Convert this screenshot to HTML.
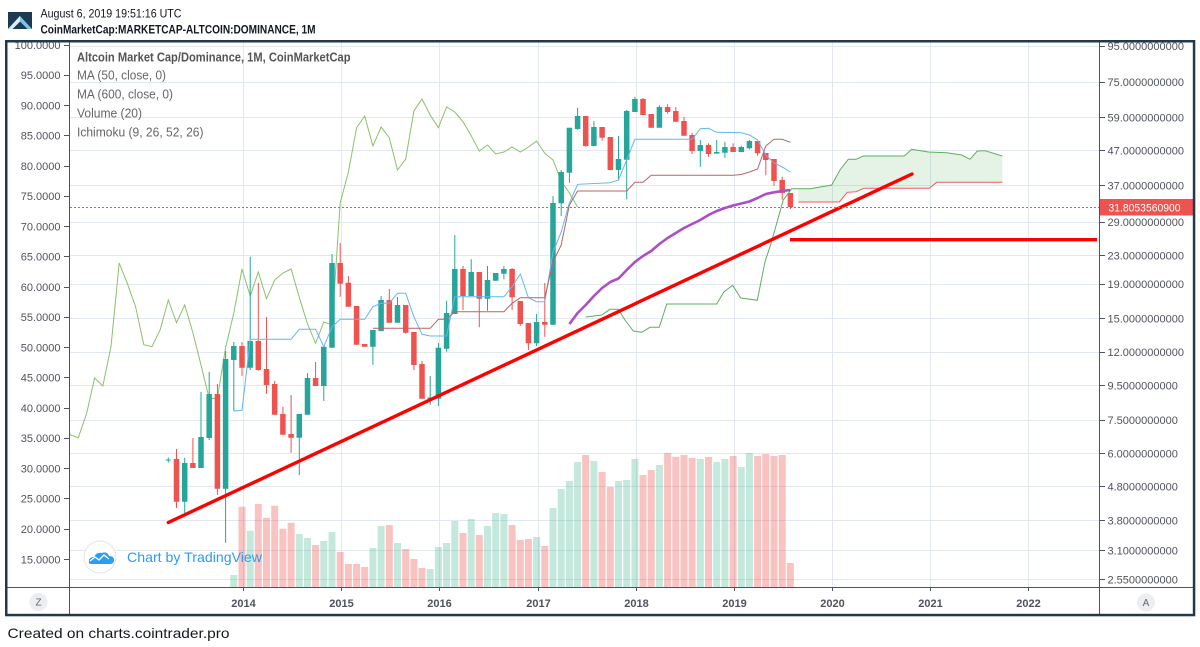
<!DOCTYPE html>
<html><head><meta charset="utf-8"><style>
html,body{margin:0;padding:0;background:#fff;}
svg{display:block;font-family:"Liberation Sans",Arial,sans-serif;}
</style></head><body>
<svg width="1200" height="647" viewBox="0 0 1200 647" xmlns="http://www.w3.org/2000/svg">
<defs><clipPath id="pc"><rect x="70" y="42.5" width="1029" height="544.5"/></clipPath></defs>
<rect width="1200" height="647" fill="#fff"/>
<!-- header -->
<rect x="8" y="12" width="24" height="17" fill="#1d3a53"/>
<polygon points="8,29 20,16 32,29 27.5,29 20,21.5 12.5,29" fill="#7cc4ea"/>
<polygon points="8,29 12.5,29 20,21.5 20,16" fill="#d8eef9"/>
<text x="40.5" y="17.5" font-size="12" fill="#131722" textLength="141" lengthAdjust="spacingAndGlyphs">August 6, 2019 19:51:16 UTC</text>
<text x="40.5" y="33.5" font-size="12" font-weight="bold" fill="#131722" textLength="275" lengthAdjust="spacingAndGlyphs">CoinMarketCap:MARKETCAP-ALTCOIN:DOMINANCE, 1M</text>
<!-- grid -->
<g stroke="#e1e8ef" stroke-width="1">
<path d="M70 46.5H1099M70 82.5H1099M70 117.5H1099M70 150.5H1099M70 185.5H1099M70 222.5H1099M70 255.5H1099M70 284.5H1099M70 318.5H1099M70 352.5H1099M70 385.5H1099M70 420.5H1099M70 453.5H1099M70 486.5H1099M70 520.5H1099M70 550.5H1099M70 579.5H1099"/>
<path d="M243.5 42V587M341.5 42V587M439.5 42V587M538.5 42V587M636.5 42V587M734.5 42V587M832.5 42V587M930.5 42V587M1028.5 42V587"/>
</g>
<g clip-path="url(#pc)">
<!-- volume -->
<path fill="#3bb38a" fill-opacity="0.3" d="M230.3 575h7V587h-7zM246.7 530.7h7V587h-7zM295.8 534h7V587h-7zM304 538h7V587h-7zM320.3 541h7V587h-7zM328.5 532h7V587h-7zM369.4 548h7V587h-7zM377.6 526h7V587h-7zM394 543h7V587h-7zM426.7 569h7V587h-7zM434.9 547h7V587h-7zM443.1 543h7V587h-7zM451.3 521h7V587h-7zM467.7 519h7V587h-7zM484 526h7V587h-7zM492.2 513h7V587h-7zM500.4 514h7V587h-7zM533.1 537h7V587h-7zM549.5 508h7V587h-7zM557.7 489h7V587h-7zM565.9 481h7V587h-7zM574.1 462h7V587h-7zM590.4 461h7V587h-7zM615 481h7V587h-7zM623.2 480h7V587h-7zM631.4 459h7V587h-7zM655.9 465h7V587h-7zM696.8 459h7V587h-7zM713.2 462h7V587h-7zM721.4 459h7V587h-7zM737.8 467h7V587h-7zM745.9 453h7V587h-7z"/>
<path fill="#ef5350" fill-opacity="0.35" d="M238.5 506.7h7V587h-7zM254.8 504h7V587h-7zM263 517.7h7V587h-7zM271.2 505.7h7V587h-7zM279.4 528.7h7V587h-7zM287.6 522.7h7V587h-7zM312.1 545h7V587h-7zM336.7 552h7V587h-7zM344.9 564h7V587h-7zM353.1 564h7V587h-7zM361.2 567h7V587h-7zM385.8 525h7V587h-7zM402.2 549h7V587h-7zM410.4 559h7V587h-7zM418.5 568h7V587h-7zM459.5 533h7V587h-7zM475.8 535h7V587h-7zM508.6 525h7V587h-7zM516.8 540h7V587h-7zM524.9 539h7V587h-7zM541.3 546h7V587h-7zM582.2 455h7V587h-7zM598.6 472h7V587h-7zM606.8 487h7V587h-7zM639.5 475h7V587h-7zM647.7 470h7V587h-7zM664.1 453h7V587h-7zM672.3 456.7h7V587h-7zM680.5 455h7V587h-7zM688.6 458h7V587h-7zM705 457h7V587h-7zM729.6 456h7V587h-7zM754.1 456h7V587h-7zM762.3 454h7V587h-7zM770.5 456h7V587h-7zM778.7 455h7V587h-7zM786.9 563h7V587h-7z"/>
<!-- watermark -->
<circle cx="100" cy="557" r="16" fill="#fff" fill-opacity="0.85" stroke="#e4e4e4" stroke-width="1"/>
<path d="M89 563q-1-6 5-6q2-5 8-4q5-2 7 3q5 0 5 4q0 4-4 4h-18q-3 0-3-1z" fill="#2a9df4"/>
<path d="M90 561l5-4l4 3l5-5l5 4" stroke="#fff" stroke-width="1.4" fill="none"/>
<text x="127" y="562" font-size="14" fill="#2f9bf0" textLength="135" lengthAdjust="spacingAndGlyphs">Chart by TradingView</text>
<!-- cloud -->
<polygon fill="#4caf50" fill-opacity="0.15" points="798.3,188.7 810,188.7 831.7,185 840,170 848.3,159.3 856,159.3 863.3,156 904.3,156 911.7,149.3 928.3,152 946.7,152.7 961.7,155 970,159.3 977.3,151 985,150.7 1002.3,156 1002.3,182.3 936.7,182.3 929.3,188.3 864,188.3 856,191.7 847.3,192.3 839.3,202 798.3,202"/>
<!-- chikou -->
<polyline fill="none" stroke="#8cc06a" stroke-width="1" points="61.9,414.7 70.1,434.7 78.3,437.7 86.5,414 94.6,378 102.8,386 111,346.7 119.2,263 127.4,283.7 135.6,306.7 143.8,344.7 151.9,346.7 160.1,330 168.3,300 176.5,322.7 184.7,305 192.9,332.7 201,365 209.2,398.7 217.4,398 225.6,347.7 233.8,313 242,269 250.2,296 258.3,272 266.5,298.7 274.7,280 282.9,273 291.1,269 299.3,297.3 307.5,324 315.6,343.3 323.8,322 332,324.7 340.2,203 348.4,172 356.6,127.7 364.7,116 372.9,146 381.1,127 389.3,137.7 397.5,170 405.7,159 413.9,111 422,99 430.2,115 438.4,127.7 446.6,107 454.8,112 463,121.7 471.2,135.7 479.3,151 487.5,145 495.7,154 503.9,152 512.1,147 520.3,152 528.4,147 536.6,141 544.8,153.3 553,160 561.2,181 569.4,193 577.6,207"/>
<!-- span A -->
<polyline fill="none" stroke="#5fae5f" stroke-width="1" points="585.7,317 601.7,315 610,309.3 618.3,309.3 625,320 633.3,331 641.7,332.3 650,327.3 659.3,327.3 666.7,304 716.7,304 724,291.7 732.7,285.3 740.7,298 757.3,300.3 765,261.7 770,246.7 776.7,223.3 783.3,200 791.7,188.7 810,188.7 831.7,185 840,170 848.3,159.3 856,159.3 863.3,156 904.3,156 911.7,149.3 928.3,152 946.7,152.7 961.7,155 970,159.3 977.3,151 985,150.7 1002.3,156"/>
<!-- span B -->
<polyline fill="none" stroke="#f25c5c" stroke-width="1" points="798.3,202 839.3,202 847.3,192.3 856,191.7 864,188.3 929.3,188.3 936.7,182.3 1002.3,182.3"/>
<!-- candles green -->
<path stroke="#26a69a" stroke-width="1" fill="none" d="M168.3 457.5V462.5M165.8 460H170.8M184.7 457.7V515M201 392V468M209.2 372V440M225.6 351V542.7M233.8 342V411M250.2 256.7V370M299.3 414V475M307.5 373V414.7M323.8 346V401M332 254V347.7M372.9 330V364.7M381.1 296V331M397.5 297V322.7M430.2 376V404.7M438.4 343V406M446.6 300.7V351.7M454.8 235V314M471.2 259.3V296M487.5 266V310.7M495.7 273V280.7M503.9 266V279.3M536.6 314V346M553 196V324.7M561.2 170V216M569.4 127.7V182.7M577.6 107.7V129.7M593.9 121.3V146M618.5 136V180M626.7 110V199.3M634.9 96.7V112M659.4 105.3V127.7M700.3 140V166.7M716.7 140V153.3M724.9 141.7V157.7M741.3 145.7V152M749.4 140V149.3"/>
<path fill="#26a69a" d="M181.95 463h5.5V501.7h-5.5zM198.25 437h5.5V468h-5.5zM206.45 394h5.5V438h-5.5zM222.85 359h5.5V488.7h-5.5zM231.05 346h5.5V360h-5.5zM247.45 341h5.5V367.7h-5.5zM296.55 414h5.5V437.7h-5.5zM304.75 378h5.5V414.7h-5.5zM321.05 346.7h5.5V386h-5.5zM329.25 263h5.5V347.7h-5.5zM370.15 330h5.5V346.7h-5.5zM378.35 300h5.5V331h-5.5zM394.75 305h5.5V322.7h-5.5zM427.45 397.5h5.5V398.7h-5.5zM435.65 347.7h5.5V398.7h-5.5zM443.85 313h5.5V348.7h-5.5zM452.05 269h5.5V314h-5.5zM468.45 272h5.5V296h-5.5zM484.75 280h5.5V298.7h-5.5zM492.95 273h5.5V280.7h-5.5zM501.15 269h5.5V273.7h-5.5zM533.85 322h5.5V343.3h-5.5zM550.25 203h5.5V324.7h-5.5zM558.45 172h5.5V203.3h-5.5zM566.65 127.7h5.5V172.7h-5.5zM574.85 116h5.5V129h-5.5zM591.15 127h5.5V146h-5.5zM615.75 159h5.5V170h-5.5zM623.95 111h5.5V159.7h-5.5zM632.15 99h5.5V112h-5.5zM656.65 107h5.5V127.7h-5.5zM697.55 145h5.5V151h-5.5zM713.95 152h5.5V153.6h-5.5zM722.15 147h5.5V152.7h-5.5zM738.55 147h5.5V152h-5.5zM746.65 141h5.5V148.3h-5.5z"/>
<!-- candles red -->
<path stroke="#ef5350" stroke-width="1" fill="none" d="M176.5 449V508M192.9 438V468M217.4 384V495M242 342V376M258.3 282.7V370.7M266.5 317V394M274.7 381V414.7M282.9 406.7V434.7M291.1 395V452.7M315.6 362V386M340.2 243V296.7M348.4 276V306.7M356.6 306V344.7M364.7 344V346.7M389.3 289V322.7M405.7 305V333.7M413.9 332V370M422 360.7V398.7M463 266V310M479.3 272V327.3M512.1 268V310M520.3 301V326M528.4 323V350M544.8 283V336.7M585.7 116V146.7M602.1 127V140.7M610.3 137V170M643 98V115M651.2 114V127.7M667.6 104.3V113.7M675.8 107V121.7M684 117V135.7M692.1 132.7V154M708.5 143.3V156.7M733.1 143.3V152M757.6 141V155.7M765.8 153V175.3M774 159V185.7M782.2 176.7V199.7M790.4 193V209"/>
<path fill="#ef5350" d="M173.75 459h5.5V501.7h-5.5zM190.15 463h5.5V468h-5.5zM214.65 394h5.5V488.7h-5.5zM239.25 346h5.5V367.7h-5.5zM255.55 341h5.5V370h-5.5zM263.75 369h5.5V385h-5.5zM271.95 384h5.5V414.7h-5.5zM280.15 414h5.5V434.7h-5.5zM288.35 434h5.5V437.7h-5.5zM312.85 378h5.5V386h-5.5zM337.45 263h5.5V283.7h-5.5zM345.65 282.7h5.5V306.7h-5.5zM353.85 306h5.5V344.7h-5.5zM361.95 344h5.5V346.7h-5.5zM386.55 300h5.5V322.7h-5.5zM402.95 305h5.5V332.7h-5.5zM411.15 332h5.5V365h-5.5zM419.25 364h5.5V398.7h-5.5zM460.25 269h5.5V296h-5.5zM476.55 272h5.5V298.7h-5.5zM509.35 269h5.5V297.3h-5.5zM517.55 301h5.5V324h-5.5zM525.65 323h5.5V343.3h-5.5zM542.05 322h5.5V324.7h-5.5zM582.95 116h5.5V146h-5.5zM599.35 127h5.5V137.7h-5.5zM607.55 137h5.5V170h-5.5zM640.25 99h5.5V115h-5.5zM648.45 114h5.5V127.7h-5.5zM664.85 107h5.5V112h-5.5zM673.05 111h5.5V121.7h-5.5zM681.25 121h5.5V135.7h-5.5zM689.35 135h5.5V151h-5.5zM705.75 145h5.5V154h-5.5zM730.35 147h5.5V152h-5.5zM754.85 141h5.5V153.3h-5.5zM763.05 153h5.5V160h-5.5zM771.25 159h5.5V181h-5.5zM779.45 180h5.5V193h-5.5zM787.65 193h5.5V207h-5.5z"/>
<!-- conversion line -->
<polyline fill="none" stroke="#64b5f6" stroke-width="1" points="233.8,411 242,410.3 250.2,339.3 291.1,339.3 299.3,329.3 315.6,329.3 323.8,346.7 332,327 340.2,319.3 364.7,319.3 372.9,306.7 381.1,303.3 389.3,303.3 397.5,293.3 405.7,293.3 413.9,316.7 422,334.3 430.2,336 446.6,336 454.8,296.7 503.9,296.7 512.1,286.7 520.3,274 528.4,297.7 536.6,301.7 544.8,301.7 553,252 561.2,232 569.4,203 577.6,184.3 610.3,182.7 618.5,180 626.7,160 634.9,139.3 692.1,139.3 700.3,128.7 708.5,128.3 716.7,132.3 741.3,132.7 749.4,135 757.6,140 765.8,155 774,163 782.2,167 790.4,172"/>
<!-- base line -->
<polyline fill="none" stroke="#b96464" stroke-width="1" points="372.9,328.3 430.2,328.3 438.4,319.3 446.6,319.3 454.8,311.7 503.9,311.7 512.1,303.3 520.3,297.7 544.8,297.7 553,262 561.2,245 569.4,205 577.6,191 626.7,191 634.9,182.3 643,182.3 651.2,175.3 733.1,175.3 741.3,174.5 749.4,172 757.6,169 765.8,146 774,139.3 782.2,139.3 790.4,142.3"/>
<!-- MA50 -->
<polyline fill="none" stroke="#ab4fc6" stroke-width="2.6" stroke-linejoin="round" points="569.4,324 577.6,313 585.7,305 593.9,296 602.1,288 610.3,282 618.5,278.5 626.7,270 634.9,262 643,256 651.2,251 659.4,244 667.6,238 675.8,233 684,228 692.1,224 700.3,220 708.5,215 716.7,211 724.9,208 733.1,205.5 741.3,203.5 749.4,201.5 757.6,198 765.8,194 774,192.3 782.2,191 790.4,190"/>
<!-- drawings -->
<line x1="168.3" y1="522.5" x2="912" y2="174" stroke="#ff0000" stroke-width="3.4" stroke-linecap="round"/>
<line x1="790" y1="239.7" x2="1097" y2="239.7" stroke="#ff0000" stroke-width="3.4"/>
<line x1="70" y1="207.5" x2="1099" y2="207.5" stroke="#ef5350" stroke-width="1" stroke-dasharray="2,2"/>
</g>
<!-- legend -->
<text x="77" y="61.5" font-size="13" font-weight="bold" fill="#555" textLength="273.5" lengthAdjust="spacingAndGlyphs">Altcoin Market Cap/Dominance, 1M, CoinMarketCap</text>
<g font-size="13" fill="#666">
<text x="77" y="79.5" textLength="89" lengthAdjust="spacingAndGlyphs">MA (50, close, 0)</text>
<text x="77" y="98.5" textLength="96" lengthAdjust="spacingAndGlyphs">MA (600, close, 0)</text>
<text x="77" y="117.5" textLength="65" lengthAdjust="spacingAndGlyphs">Volume (20)</text>
<text x="77" y="136.5" textLength="126.5" lengthAdjust="spacingAndGlyphs">Ichimoku (9, 26, 52, 26)</text>
</g>
<!-- axes lines -->
<g stroke="#50535e" stroke-width="1" fill="none">
<path d="M69.5 42V616M1099.5 42V616M7 587.5H1193"/>
<path d="M64 45.5H69M64 75.5H69M64 105.5H69M64 135.5H69M64 166.5H69M64 196.5H69M64 226.5H69M64 256.5H69M64 287.5H69M64 317.5H69M64 347.5H69M64 377.5H69M64 408.5H69M64 438.5H69M64 468.5H69M64 498.5H69M64 529.5H69M64 559.5H69"/>
<path d="M1100 46.5H1105M1100 82.5H1105M1100 117.5H1105M1100 150.5H1105M1100 185.5H1105M1100 222.5H1105M1100 255.5H1105M1100 284.5H1105M1100 318.5H1105M1100 352.5H1105M1100 385.5H1105M1100 420.5H1105M1100 453.5H1105M1100 486.5H1105M1100 520.5H1105M1100 550.5H1105M1100 579.5H1105"/>
<path d="M243.5 588V591M341.5 588V591M439.5 588V591M538.5 588V591M636.5 588V591M734.5 588V591M832.5 588V591M930.5 588V591M1028.5 588V591"/>
</g>
<!-- left labels -->
<g font-size="11" fill="#50535e" text-anchor="end">
<text x="60.5" y="49">100.0000</text>
<text x="60.5" y="79.2">95.0000</text>
<text x="60.5" y="109.5">90.0000</text>
<text x="60.5" y="139.7">85.0000</text>
<text x="60.5" y="170">80.0000</text>
<text x="60.5" y="200.2">75.0000</text>
<text x="60.5" y="230.5">70.0000</text>
<text x="60.5" y="260.7">65.0000</text>
<text x="60.5" y="291">60.0000</text>
<text x="60.5" y="321.2">55.0000</text>
<text x="60.5" y="351.5">50.0000</text>
<text x="60.5" y="381.7">45.0000</text>
<text x="60.5" y="412">40.0000</text>
<text x="60.5" y="442.2">35.0000</text>
<text x="60.5" y="472.5">30.0000</text>
<text x="60.5" y="502.7">25.0000</text>
<text x="60.5" y="533">20.0000</text>
<text x="60.5" y="563.3">15.0000</text>
</g>
<!-- right labels -->
<g font-size="11" fill="#50535e">
<text x="1107.5" y="50">95.0000000000</text>
<text x="1107.5" y="86">75.0000000000</text>
<text x="1107.5" y="121.5">59.0000000000</text>
<text x="1107.5" y="154.5">47.0000000000</text>
<text x="1107.5" y="189.5">37.0000000000</text>
<text x="1107.5" y="226">29.0000000000</text>
<text x="1107.5" y="259.5">23.0000000000</text>
<text x="1107.5" y="288">19.0000000000</text>
<text x="1107.5" y="322.5">15.0000000000</text>
<text x="1107.5" y="356">12.0000000000</text>
<text x="1107.5" y="389.5">9.5000000000</text>
<text x="1107.5" y="424">7.5000000000</text>
<text x="1107.5" y="457.5">6.0000000000</text>
<text x="1107.5" y="490.5">4.8000000000</text>
<text x="1107.5" y="524.5">3.8000000000</text>
<text x="1107.5" y="554.3">3.1000000000</text>
<text x="1107.5" y="583.3">2.5500000000</text>
</g>
<rect x="1100" y="199" width="93" height="16.5" fill="#ef5350"/>
<text x="1108.5" y="211.3" font-size="11" fill="#fff" textLength="72" lengthAdjust="spacingAndGlyphs">31.8053560900</text>
<!-- year labels -->
<g font-size="11" font-weight="bold" fill="#50535e" text-anchor="middle">
<text x="243.5" y="607">2014</text>
<text x="341.5" y="607">2015</text>
<text x="439.5" y="607">2016</text>
<text x="538.5" y="607">2017</text>
<text x="636.5" y="607">2018</text>
<text x="734.5" y="607">2019</text>
<text x="832.5" y="607">2020</text>
<text x="930.5" y="607">2021</text>
<text x="1028.5" y="607">2022</text>
</g>
<circle cx="38.5" cy="602" r="9" fill="#eceef2"/>
<text x="38.5" y="605.5" font-size="10" fill="#666" text-anchor="middle">Z</text>
<circle cx="1146" cy="602.5" r="9" fill="#eceef2"/>
<text x="1146" y="606" font-size="10" fill="#666" text-anchor="middle">A</text>
<!-- frame -->
<rect x="6.25" y="41.25" width="1187.8" height="573.8" fill="none" stroke="#24384c" stroke-width="2.5"/>
<!-- footer -->
<text x="7.5" y="638" font-size="14" fill="#131722" textLength="222" lengthAdjust="spacingAndGlyphs">Created on charts.cointrader.pro</text>
</svg>
</body></html>
